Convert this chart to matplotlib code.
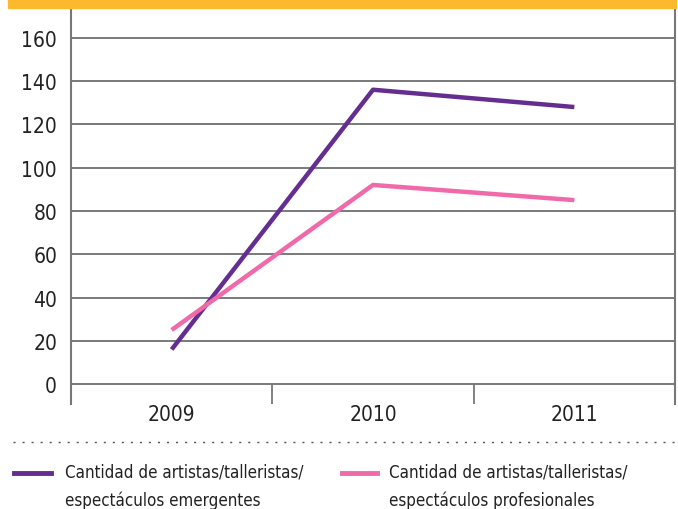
import matplotlib
matplotlib.use("Agg")
import matplotlib.pyplot as plt
from matplotlib.lines import Line2D

years = ["2009", "2010", "2011"]
emergentes = [16, 136, 128]
profesionales = [25, 92, 85]
y_ticks = [0, 20, 40, 60, 80, 100, 120, 140, 160]
labels = [["Cantidad de artistas/talleristas/", "espectáculos emergentes"],
          ["Cantidad de artistas/talleristas/", "espectáculos profesionales"]]
colors = ["#662d91", "#f06aaa"]

plt.rcParams['font.family'] = ['DejaVu Sans']
plt.rcParams['font.stretch'] = 'condensed'

fig = plt.figure(figsize=(6.78, 5.10), dpi=100)
ax = fig.add_axes([71/678, 105/510, 604/678, 395/510])

x = list(range(len(years)))
ax.plot(x, emergentes, color=colors[0], lw=3.2, solid_capstyle='butt')
ax.plot(x, profesionales, color=colors[1], lw=3.2, solid_capstyle='butt')

ax.set_xlim(-0.5, 2.5)
ax.set_ylim(-9.2, 173.3)
ax.set_yticks(y_ticks)
ax.set_yticklabels([str(v) for v in y_ticks], fontsize=15, color="#222222")
ax.tick_params(axis='y', length=0, pad=10)
ax.set_xticks(x)
ax.set_xticklabels(years, fontsize=15, color="#222222")
ax.tick_params(axis='x', length=0, pad=0)
for v in y_ticks:
    ax.axhline(v, color="#555555", lw=1.1, zorder=0)
ax.vlines([0.5, 1.5], -9.2, 0, color="#777777", lw=1.3)
for s in ['top', 'bottom']:
    ax.spines[s].set_visible(False)
for s in ['left', 'right']:
    ax.spines[s].set_color("#777777")
    ax.spines[s].set_linewidth(1.5)

# orange band on top
fig.patches.append(plt.Rectangle((8/678, 501/510), 668/678, 9/510,
                                 transform=fig.transFigure, color="#fdb92e"))
# dotted separator
fig.lines.append(Line2D([13/678, 1], [67/510, 67/510], transform=fig.transFigure,
                        color="#555555", lw=1, linestyle=(0, (1.5, 5))))
# legend
for (x0, x1, tx), lab, c in zip([(14, 51, 65), (342, 377, 389)], labels, colors):
    fig.lines.append(Line2D([x0/678, x1/678], [36/510, 36/510],
                            transform=fig.transFigure, color=c, lw=3.5))
    for i, line in enumerate(lab):
        fig.text(tx/678, (37 - 28*i)/510, line, fontsize=12.2, color="#222222",
                 va='center', ha='left')

fig.savefig("out.png", dpi=100)
